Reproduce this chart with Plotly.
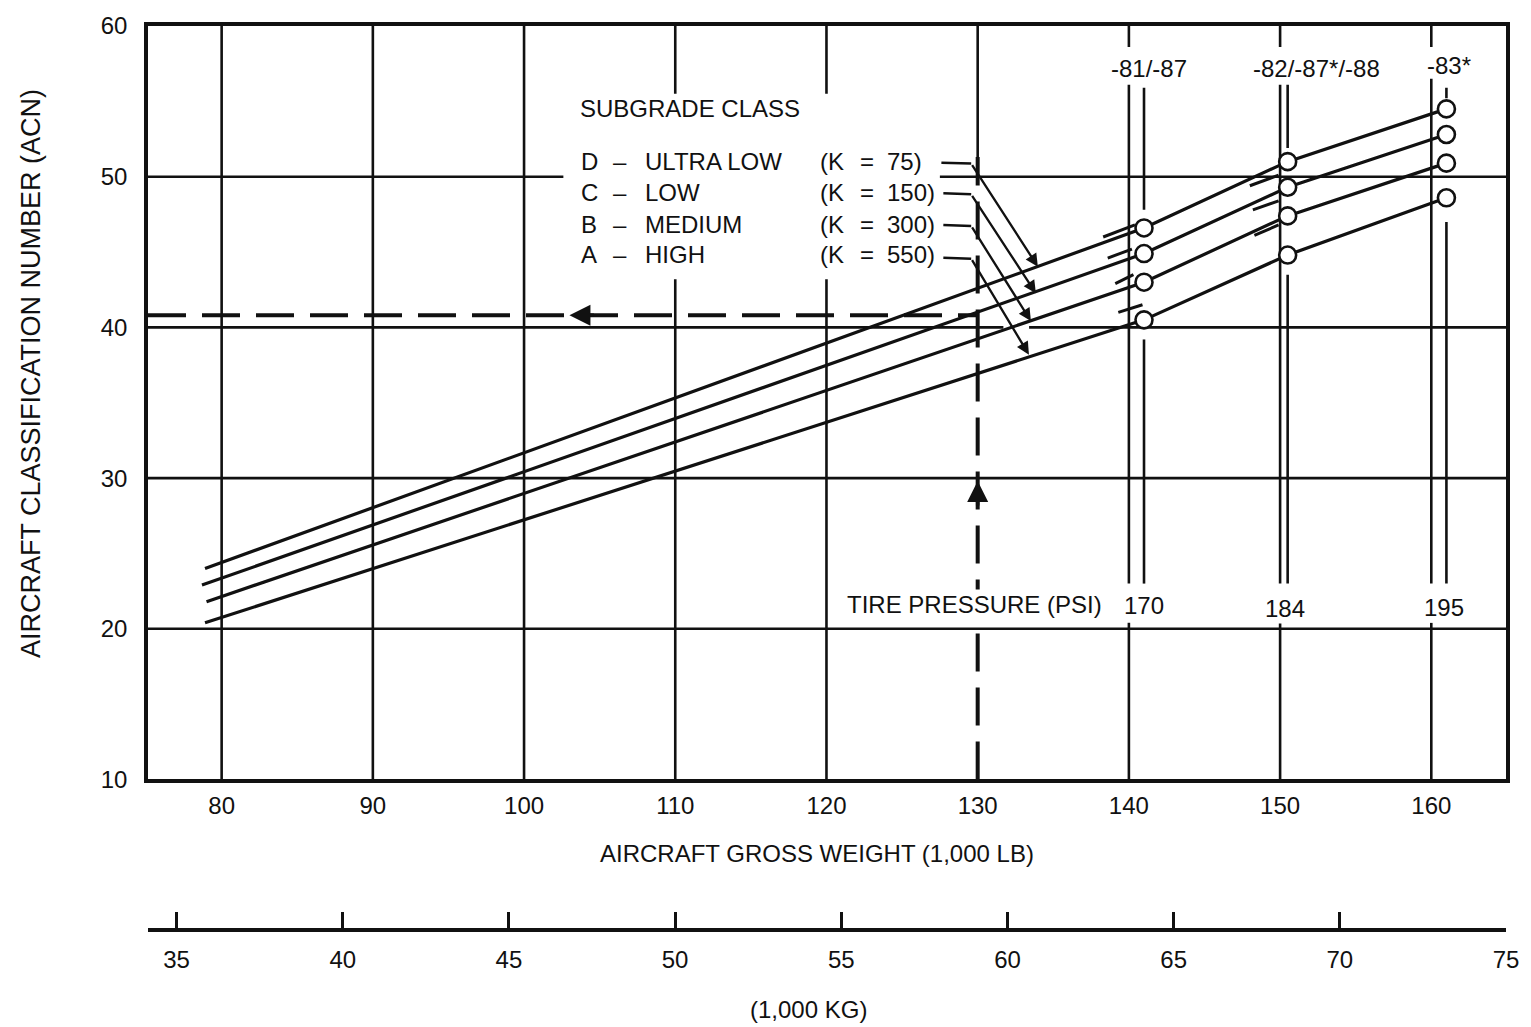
import plotly.graph_objects as go

# ---------------- data ----------------
lb_ticks = [80, 90, 100, 110, 120, 130, 140, 150, 160]
acn_ticks = [10, 20, 30, 40, 50, 60]
kg_ticks = [35, 40, 45, 50, 55, 60, 65, 70, 75]

classes = ["D", "C", "B", "A"]
class_names = ["ULTRA LOW", "LOW", "MEDIUM", "HIGH"]
k_values = [75, 150, 300, 550]

# start of each subgrade line (1,000 lb, ACN)
start_weight = [78.9, 78.7, 79.0, 78.9]
start_acn = [24.0, 22.9, 21.8, 20.4]

# model weights (ramp weights) and labels
model_weights = [141.0, 150.5, 161.0]
model_labels = ["-81/-87", "-82/-87*/-88", "-83*"]
tire_pressure = ["170", "184", "195"]

# ACN at each model weight, per subgrade class
acn_D = [46.6, 51.0, 54.5]
acn_C = [44.9, 49.3, 52.8]
acn_B = [43.0, 47.4, 50.9]
acn_A = [40.5, 44.8, 48.6]
acn_by_class = [acn_D, acn_C, acn_B, acn_A]

# short model line stubs near 140 and 150 (x0, x1, y0, y1)
stub140_x0 = [138.3, 138.6, 139.1, 139.3]
stub140_x1 = [140.4, 140.2, 140.3, 140.9]
stub140_y0 = [46.0, 44.6, 42.9, 41.0]
stub140_y1 = [46.8, 45.2, 43.5, 41.5]
stub150_x0 = [148.0, 148.2, 148.3]
stub150_x1 = [149.9, 149.9, 149.9]
stub150_y0 = [49.4, 47.8, 46.1]
stub150_y1 = [50.1, 48.4, 46.8]

# worked example (read-off)
example_weight = 130
example_acn = 40.8

# ---------------- layout helpers ----------------
XR = [75.13, 164.94]
YR = [10, 60]
PL, PR, PT, PB = 148, 1512, 17, 930
WP, HP = PR - PL, PB - PT
PLOT_BOTTOM = 778


def fx(px):
    return (px - PL) / WP


def fy(py):
    return (PB - py) / HP


FONT = "Liberation Sans, Arial, Helvetica, sans-serif"
BLACK = "#111111"
GRID_W = 2.6

fig = go.Figure()

shapes = []


def vseg(x, y0, y1, w=GRID_W):
    shapes.append(dict(type="line", xref="x", yref="y", x0=x, x1=x, y0=y0, y1=y1,
                       line=dict(color=BLACK, width=w), layer="below"))


def hseg(y, x0, x1, w=GRID_W):
    shapes.append(dict(type="line", xref="x", yref="y", x0=x0, x1=x1, y0=y, y1=y,
                       line=dict(color=BLACK, width=w), layer="below"))


# vertical grid
for x in lb_ticks:
    if x in (80, 90, 100):
        vseg(x, 10, 60)
    elif x in (110, 120):
        vseg(x, 10, 43.2)
        vseg(x, 55.5, 60)
    elif x == 130:
        vseg(x, 51.3, 60)
    else:
        top_break = 56.5 if x == 160 else 56.1
        vseg(x, 10, 20.4)
        vseg(x, 23.0, top_break)
        vseg(x, 58.6, 60)

# model weight lines
vseg(model_weights[0], 47.8, 55.9)
vseg(model_weights[0], 23.0, 39.2)
vseg(model_weights[1], 51.9, 56.1)
vseg(model_weights[1], 23.0, 43.5)
vseg(model_weights[2], 55.2, 55.9)
vseg(model_weights[2], 23.0, 47.0)

# horizontal grid
hseg(20, XR[0], XR[1])
hseg(30, XR[0], XR[1])
hseg(40, XR[0], 131.7)
hseg(40, 133.4, XR[1])
hseg(50, XR[0], 102.6)
hseg(50, 127.5, XR[1])

# legend leader horizontals
leader_start = [(127.6, 50.93), (127.73, 48.9), (127.73, 46.79), (127.73, 44.63)]
leader_bend = [(129.57, 50.87), (129.57, 48.83), (129.57, 46.73), (129.57, 44.56)]
leader_tip = [(133.98, 44.03), (133.85, 42.26), (133.52, 40.42), (133.39, 38.19)]
for (sx, sy), (bx, by) in zip(leader_start, leader_bend):
    shapes.append(dict(type="line", xref="x", yref="y", x0=sx, x1=bx, y0=sy, y1=by,
                       line=dict(color=BLACK, width=2.5)))

# ---------------- traces ----------------
DASH = "38px,16px"
fig.add_trace(go.Scatter(x=[XR[0], example_weight], y=[example_acn, example_acn],
                         mode="lines", line=dict(color=BLACK, width=4, dash=DASH),
                         showlegend=False, hoverinfo="skip"))
fig.add_trace(go.Scatter(x=[example_weight, example_weight], y=[10, 51.3],
                         mode="lines", line=dict(color=BLACK, width=4, dash=DASH),
                         showlegend=False, hoverinfo="skip"))

for i, cls in enumerate(classes):
    xs = [start_weight[i]] + model_weights
    ys = [start_acn[i]] + acn_by_class[i]
    fig.add_trace(go.Scatter(x=xs, y=ys, mode="lines", name=cls,
                             line=dict(color=BLACK, width=3.2), showlegend=False))

for i in range(len(stub140_x0)):
    fig.add_trace(go.Scatter(x=[stub140_x0[i], stub140_x1[i]], y=[stub140_y0[i], stub140_y1[i]],
                             mode="lines", line=dict(color=BLACK, width=3), showlegend=False,
                             hoverinfo="skip"))
for i in range(len(stub150_x0)):
    fig.add_trace(go.Scatter(x=[stub150_x0[i], stub150_x1[i]], y=[stub150_y0[i], stub150_y1[i]],
                             mode="lines", line=dict(color=BLACK, width=3), showlegend=False,
                             hoverinfo="skip"))

for i, cls in enumerate(classes):
    fig.add_trace(go.Scatter(x=model_weights, y=acn_by_class[i], mode="markers",
                             marker=dict(symbol="circle", size=17, color="white",
                                         line=dict(color=BLACK, width=2.6)),
                             showlegend=False))

# dummy trace to activate the kg axis
fig.add_trace(go.Scatter(x=[kg_ticks[0]], y=[YR[0]], xaxis="x2", mode="markers",
                         marker=dict(opacity=0), showlegend=False, hoverinfo="skip"))

# ---------------- annotations ----------------
ann = []


def txt(text, px, py, size=24, xanchor="center", angle=0, bg=None):
    d = dict(text=text, xref="paper", yref="paper", x=fx(px), y=fy(py),
             xanchor=xanchor, yanchor="middle", showarrow=False,
             font=dict(family=FONT, size=size, color=BLACK), textangle=angle)
    if bg:
        d["bgcolor"] = bg
    ann.append(d)


txt("AIRCRAFT CLASSIFICATION NUMBER (ACN)", 30, 368, size=27, angle=-90)
txt("AIRCRAFT GROSS WEIGHT (1,000 LB)", 820, 853, size=24)
txt("(1,000 KG)", 811, 1010, size=24)

txt("SUBGRADE CLASS", 580, 100, xanchor="left")
row_y = [154, 185, 217, 248]
for i in range(4):
    txt(classes[i], 581, row_y[i], xanchor="left")
    txt("\u2013", 613, row_y[i], xanchor="left")
    txt(class_names[i], 645, row_y[i], xanchor="left")
    txt("(K", 821, row_y[i], xanchor="left")
    txt("=", 861, row_y[i], xanchor="left")
    txt(f"{k_values[i]})", 888, row_y[i], xanchor="left")

txt("TIRE PRESSURE (PSI)", 978, 601, bg="white")
for lab, pxx, pyy in zip(tire_pressure, [1148, 1290, 1450], [602, 605, 604]):
    txt(lab, pxx, pyy, bg="white")
for lab, pxx, pyy in zip(model_labels, [1153, 1322, 1455], [60, 60, 57]):
    txt(lab, pxx, pyy)

# arrows on worked example
ann.append(dict(x=103.0, y=example_acn, xref="x", yref="y", ax=26, ay=0, text="",
                showarrow=True, arrowhead=2, arrowsize=1.2, arrowwidth=3.5, arrowcolor=BLACK))
ann.append(dict(x=example_weight, y=29.8, xref="x", yref="y", ax=0, ay=26, text="",
                showarrow=True, arrowhead=2, arrowsize=1.2, arrowwidth=3.5, arrowcolor=BLACK))
# legend leader arrows
for (bx, by), (tx, ty) in zip(leader_bend, leader_tip):
    ann.append(dict(x=tx, y=ty, xref="x", yref="y", ax=bx, ay=by, axref="x", ayref="y",
                    text="", showarrow=True, arrowhead=2, arrowsize=1.1, arrowwidth=2.3,
                    arrowcolor=BLACK))

# ---------------- layout ----------------
fig.update_layout(
    width=1531, height=1027,
    margin=dict(l=PL, r=1531 - PR, t=PT, b=1027 - PB, pad=0),
    paper_bgcolor="white", plot_bgcolor="white",
    font=dict(family=FONT, size=24, color=BLACK),
    showlegend=False,
    shapes=shapes,
    annotations=ann,
    xaxis=dict(range=XR, tickvals=lb_ticks, ticks="", showgrid=False, zeroline=False,
               showline=True, linewidth=3.5, linecolor=BLACK, mirror=True,
               tickfont=dict(family=FONT, size=24, color=BLACK), ticklabelstandoff=2,
               anchor="y", fixedrange=True),
    yaxis=dict(range=YR, tickvals=acn_ticks, ticks="", showgrid=False, zeroline=False,
               showline=True, linewidth=3.5, linecolor=BLACK, mirror=True,
               domain=[(PB - PLOT_BOTTOM) / HP, 1],
               tickfont=dict(family=FONT, size=24, color=BLACK), ticklabelstandoff=12,
               fixedrange=True),
    xaxis2=dict(range=[34.14, 75], domain=[0, (1508 - PL) / WP], overlaying="x",
                anchor="free", position=0, side="bottom",
                tickvals=kg_ticks, ticks="inside", ticklen=16, tickwidth=3, tickcolor=BLACK,
                showline=True, linewidth=3.5, linecolor=BLACK, showgrid=False, zeroline=False,
                tickfont=dict(family=FONT, size=24, color=BLACK), ticklabelstandoff=7,
                fixedrange=True),
)

fig.write_html("out.html", config={"displayModeBar": False},
               post_script="document.body.style.margin='0px';document.body.style.overflow='hidden';")
